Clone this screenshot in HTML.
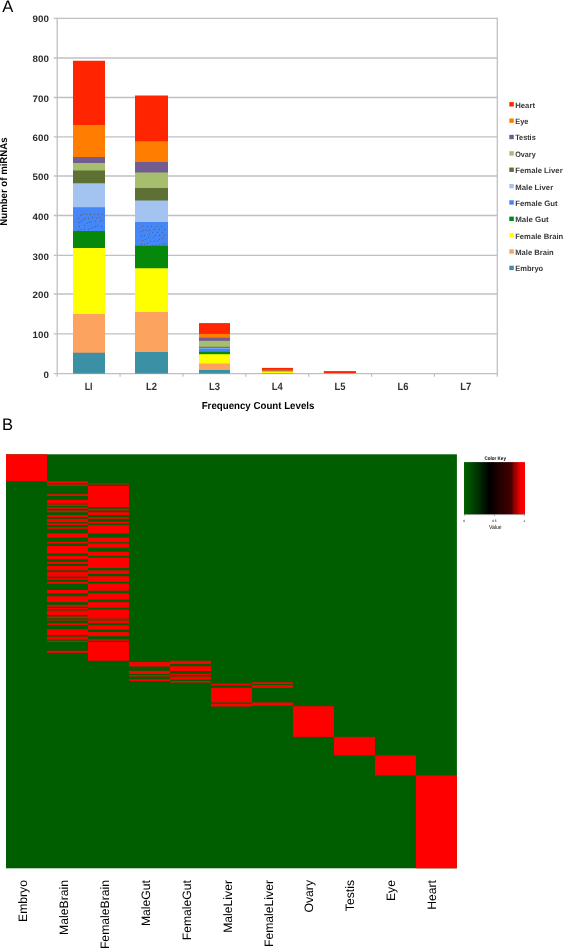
<!DOCTYPE html><html><head><meta charset="utf-8"><style>html,body{margin:0;padding:0;background:#fff;}body{width:563px;height:948px;overflow:hidden;}svg{display:block;will-change:transform;}text{font-family:"Liberation Sans",sans-serif;text-rendering:geometricPrecision;}</style></head><body><svg width="563" height="948" viewBox="0 0 563 948"><rect x="0" y="0" width="563" height="948" fill="#fff"/><text x="2.2" y="12.2" font-size="16.6" fill="#000">A</text><text x="2.0" y="429.8" font-size="16.6" fill="#000">B</text><line x1="53.8" y1="333.90" x2="497.3" y2="333.90" stroke="#c0c0c0" stroke-width="1.3"/><line x1="53.8" y1="294.00" x2="497.3" y2="294.00" stroke="#c0c0c0" stroke-width="1.3"/><line x1="53.8" y1="255.40" x2="497.3" y2="255.40" stroke="#c0c0c0" stroke-width="1.3"/><line x1="53.8" y1="215.50" x2="497.3" y2="215.50" stroke="#c0c0c0" stroke-width="1.3"/><line x1="53.8" y1="176.00" x2="497.3" y2="176.00" stroke="#c0c0c0" stroke-width="1.3"/><line x1="53.8" y1="136.80" x2="497.3" y2="136.80" stroke="#c0c0c0" stroke-width="1.3"/><line x1="53.8" y1="97.50" x2="497.3" y2="97.50" stroke="#c0c0c0" stroke-width="1.3"/><line x1="53.8" y1="58.00" x2="497.3" y2="58.00" stroke="#c0c0c0" stroke-width="1.3"/><line x1="53.8" y1="18.30" x2="497.3" y2="18.30" stroke="#c0c0c0" stroke-width="1.3"/><line x1="57.2" y1="17.70" x2="57.2" y2="374.20" stroke="#c0c0c0" stroke-width="1.3"/><line x1="497.3" y1="17.70" x2="497.3" y2="373.60" stroke="#c0c0c0" stroke-width="1.3"/><line x1="53.8" y1="373.60" x2="497.90000000000003" y2="373.60" stroke="#c0c0c0" stroke-width="1.3"/><line x1="57.20" y1="373.60" x2="57.20" y2="376.80" stroke="#c0c0c0" stroke-width="1.2"/><line x1="120.07" y1="373.60" x2="120.07" y2="376.80" stroke="#c0c0c0" stroke-width="1.2"/><line x1="182.94" y1="373.60" x2="182.94" y2="376.80" stroke="#c0c0c0" stroke-width="1.2"/><line x1="245.81" y1="373.60" x2="245.81" y2="376.80" stroke="#c0c0c0" stroke-width="1.2"/><line x1="308.69" y1="373.60" x2="308.69" y2="376.80" stroke="#c0c0c0" stroke-width="1.2"/><line x1="371.56" y1="373.60" x2="371.56" y2="376.80" stroke="#c0c0c0" stroke-width="1.2"/><line x1="434.43" y1="373.60" x2="434.43" y2="376.80" stroke="#c0c0c0" stroke-width="1.2"/><line x1="497.30" y1="373.60" x2="497.30" y2="376.80" stroke="#c0c0c0" stroke-width="1.2"/><text x="48.8" y="377.70" font-size="9.3" font-weight="bold" fill="#2b2b2b" text-anchor="end" textLength="5.4" lengthAdjust="spacingAndGlyphs">0</text><text x="48.8" y="338.00" font-size="9.3" font-weight="bold" fill="#2b2b2b" text-anchor="end" textLength="16.25" lengthAdjust="spacingAndGlyphs">100</text><text x="48.8" y="298.10" font-size="9.3" font-weight="bold" fill="#2b2b2b" text-anchor="end" textLength="16.25" lengthAdjust="spacingAndGlyphs">200</text><text x="48.8" y="259.50" font-size="9.3" font-weight="bold" fill="#2b2b2b" text-anchor="end" textLength="16.25" lengthAdjust="spacingAndGlyphs">300</text><text x="48.8" y="219.60" font-size="9.3" font-weight="bold" fill="#2b2b2b" text-anchor="end" textLength="16.25" lengthAdjust="spacingAndGlyphs">400</text><text x="48.8" y="180.10" font-size="9.3" font-weight="bold" fill="#2b2b2b" text-anchor="end" textLength="16.25" lengthAdjust="spacingAndGlyphs">500</text><text x="48.8" y="140.90" font-size="9.3" font-weight="bold" fill="#2b2b2b" text-anchor="end" textLength="16.25" lengthAdjust="spacingAndGlyphs">600</text><text x="48.8" y="101.60" font-size="9.3" font-weight="bold" fill="#2b2b2b" text-anchor="end" textLength="16.25" lengthAdjust="spacingAndGlyphs">700</text><text x="48.8" y="62.10" font-size="9.3" font-weight="bold" fill="#2b2b2b" text-anchor="end" textLength="16.25" lengthAdjust="spacingAndGlyphs">800</text><text x="48.8" y="22.40" font-size="9.3" font-weight="bold" fill="#2b2b2b" text-anchor="end" textLength="16.25" lengthAdjust="spacingAndGlyphs">900</text><rect x="73" y="60.75" width="32" height="312.45" fill="#ff2500"/><rect x="73" y="125.00" width="32" height="248.20" fill="#ff7d00"/><rect x="73" y="157.00" width="32" height="216.20" fill="#735c90"/><rect x="73" y="163.00" width="32" height="210.20" fill="#a5bf6e"/><rect x="73" y="170.50" width="32" height="202.70" fill="#5f7034"/><rect x="73" y="183.25" width="32" height="189.95" fill="#a3c4f0"/><rect x="73" y="207.25" width="32" height="165.95" fill="#4587f7"/><rect x="73" y="231.00" width="32" height="142.20" fill="#06880a"/><rect x="73" y="248.00" width="32" height="125.20" fill="#ffff00"/><rect x="73" y="314.00" width="32" height="59.20" fill="#fba35f"/><rect x="73" y="352.75" width="32" height="20.45" fill="#3b90a6"/><rect x="135" y="95.50" width="33" height="277.70" fill="#ff2500"/><rect x="135" y="141.25" width="33" height="231.95" fill="#ff7d00"/><rect x="135" y="162.00" width="33" height="211.20" fill="#735c90"/><rect x="135" y="172.50" width="33" height="200.70" fill="#a5bf6e"/><rect x="135" y="188.00" width="33" height="185.20" fill="#5f7034"/><rect x="135" y="200.50" width="33" height="172.70" fill="#a3c4f0"/><rect x="135" y="222.00" width="33" height="151.20" fill="#4587f7"/><rect x="135" y="245.75" width="33" height="127.45" fill="#06880a"/><rect x="135" y="268.25" width="33" height="104.95" fill="#ffff00"/><rect x="135" y="312.00" width="33" height="61.20" fill="#fba35f"/><rect x="135" y="352.00" width="33" height="21.20" fill="#3b90a6"/><rect x="199" y="323.10" width="31" height="50.10" fill="#ff2500"/><rect x="199" y="333.90" width="31" height="39.30" fill="#ff7d00"/><rect x="199" y="337.70" width="31" height="35.50" fill="#735c90"/><rect x="199" y="340.80" width="31" height="32.40" fill="#a5bf6e"/><rect x="199" y="346.80" width="31" height="26.40" fill="#5f7034"/><rect x="199" y="347.80" width="31" height="25.40" fill="#a3c4f0"/><rect x="199" y="348.50" width="31" height="24.70" fill="#4587f7"/><rect x="199" y="351.80" width="31" height="21.40" fill="#06880a"/><rect x="199" y="354.20" width="31" height="19.00" fill="#ffff00"/><rect x="199" y="363.50" width="31" height="9.70" fill="#fba35f"/><rect x="199" y="370.00" width="31" height="3.20" fill="#3b90a6"/><rect x="141.96" y="225.94" width="1" height="1" fill="#5d5a70"/><rect x="146.94" y="225.94" width="1" height="1" fill="#5d5a70"/><rect x="151.03" y="225.94" width="1" height="1" fill="#5d5a70"/><rect x="156.01" y="225.94" width="1" height="1" fill="#5d5a70"/><rect x="161.00" y="225.94" width="1" height="1" fill="#5d5a70"/><rect x="143.02" y="229.86" width="1" height="1" fill="#5d5a70"/><rect x="146.05" y="229.86" width="1" height="1" fill="#5d5a70"/><rect x="148.99" y="229.86" width="1" height="1" fill="#5d5a70"/><rect x="153.97" y="228.96" width="1" height="1" fill="#5d5a70"/><rect x="158.95" y="228.96" width="1" height="1" fill="#5d5a70"/><rect x="164.02" y="228.96" width="1" height="1" fill="#5d5a70"/><rect x="140.98" y="231.00" width="1" height="1" fill="#5d5a70"/><rect x="152.01" y="231.90" width="1" height="1" fill="#5d5a70"/><rect x="156.99" y="231.90" width="1" height="1" fill="#5d5a70"/><rect x="161.98" y="231.90" width="1" height="1" fill="#5d5a70"/><rect x="148.99" y="233.94" width="1" height="1" fill="#5d5a70"/><rect x="144.00" y="234.92" width="1" height="1" fill="#5d5a70"/><rect x="154.95" y="234.92" width="1" height="1" fill="#5d5a70"/><rect x="158.95" y="234.92" width="1" height="1" fill="#5d5a70"/><rect x="164.02" y="234.92" width="1" height="1" fill="#5d5a70"/><rect x="140.98" y="235.99" width="1" height="1" fill="#5d5a70"/><rect x="148.01" y="236.97" width="1" height="1" fill="#5d5a70"/><rect x="152.99" y="236.97" width="1" height="1" fill="#5d5a70"/><rect x="161.98" y="237.95" width="1" height="1" fill="#5d5a70"/><rect x="144.98" y="238.93" width="1" height="1" fill="#5d5a70"/><rect x="158.95" y="238.93" width="1" height="1" fill="#5d5a70"/><rect x="141.96" y="239.99" width="1" height="1" fill="#5d5a70"/><rect x="156.99" y="239.99" width="1" height="1" fill="#5d5a70"/><rect x="149.97" y="240.97" width="1" height="1" fill="#5d5a70"/><rect x="153.97" y="240.97" width="1" height="1" fill="#5d5a70"/><rect x="146.94" y="242.93" width="1" height="1" fill="#5d5a70"/><rect x="140.98" y="243.91" width="1" height="1" fill="#5d5a70"/><rect x="144.00" y="243.91" width="1" height="1" fill="#5d5a70"/><rect x="164.02" y="242.93" width="1" height="1" fill="#5d5a70"/><rect x="161.98" y="243.91" width="1" height="1" fill="#5d5a70"/><rect x="152.01" y="244.89" width="1" height="1" fill="#5d5a70"/><rect x="154.95" y="244.89" width="1" height="1" fill="#5d5a70"/><rect x="158.95" y="244.89" width="1" height="1" fill="#5d5a70"/><rect x="80.08" y="214.92" width="1" height="1" fill="#5d5a70"/><rect x="82.00" y="213.92" width="1" height="1" fill="#5d5a70"/><rect x="85.92" y="213.92" width="1" height="1" fill="#5d5a70"/><rect x="89.92" y="213.92" width="1" height="1" fill="#5d5a70"/><rect x="94.00" y="213.92" width="1" height="1" fill="#5d5a70"/><rect x="98.00" y="213.92" width="1" height="1" fill="#5d5a70"/><rect x="101.92" y="213.92" width="1" height="1" fill="#5d5a70"/><rect x="78.00" y="217.83" width="1" height="1" fill="#5d5a70"/><rect x="82.83" y="218.92" width="1" height="1" fill="#5d5a70"/><rect x="84.92" y="217.83" width="1" height="1" fill="#5d5a70"/><rect x="88.00" y="217.83" width="1" height="1" fill="#5d5a70"/><rect x="92.00" y="217.00" width="1" height="1" fill="#5d5a70"/><rect x="95.92" y="217.83" width="1" height="1" fill="#5d5a70"/><rect x="99.00" y="217.00" width="1" height="1" fill="#5d5a70"/><rect x="78.83" y="221.83" width="1" height="1" fill="#5d5a70"/><rect x="80.92" y="220.92" width="1" height="1" fill="#5d5a70"/><rect x="86.92" y="222.83" width="1" height="1" fill="#5d5a70"/><rect x="89.00" y="221.83" width="1" height="1" fill="#5d5a70"/><rect x="91.00" y="220.92" width="1" height="1" fill="#5d5a70"/><rect x="94.92" y="220.92" width="1" height="1" fill="#5d5a70"/><rect x="99.92" y="220.92" width="1" height="1" fill="#5d5a70"/><rect x="101.92" y="219.92" width="1" height="1" fill="#5d5a70"/><rect x="78.83" y="226.00" width="1" height="1" fill="#5d5a70"/><rect x="83.92" y="224.92" width="1" height="1" fill="#5d5a70"/><rect x="93.00" y="227.00" width="1" height="1" fill="#5d5a70"/><rect x="95.00" y="226.00" width="1" height="1" fill="#5d5a70"/><rect x="97.00" y="224.92" width="1" height="1" fill="#5d5a70"/><rect x="101.00" y="226.00" width="1" height="1" fill="#5d5a70"/><rect x="78.00" y="229.92" width="1" height="1" fill="#5d5a70"/><rect x="80.92" y="228.92" width="1" height="1" fill="#5d5a70"/><rect x="83.92" y="228.92" width="1" height="1" fill="#5d5a70"/><rect x="87.92" y="228.92" width="1" height="1" fill="#5d5a70"/><rect x="90.92" y="228.00" width="1" height="1" fill="#5d5a70"/><rect x="262" y="367.9" width="31" height="5.3" fill="#ff2500"/><rect x="262" y="369.8" width="31" height="3.4" fill="#ff7d00"/><rect x="262" y="370.6" width="31" height="2.6" fill="#735c90"/><rect x="262" y="371.4" width="31" height="1.8" fill="#ffff00"/><rect x="323.8" y="371.1" width="32.2" height="2.1" fill="#ff2500"/><text x="88.64" y="389.7" font-size="10.5" font-weight="bold" fill="#333" text-anchor="middle" textLength="7.9" lengthAdjust="spacingAndGlyphs">LI</text><text x="151.51" y="389.7" font-size="10.5" font-weight="bold" fill="#333" text-anchor="middle" textLength="11.0" lengthAdjust="spacingAndGlyphs">L2</text><text x="214.38" y="389.7" font-size="10.5" font-weight="bold" fill="#333" text-anchor="middle" textLength="11.0" lengthAdjust="spacingAndGlyphs">L3</text><text x="277.25" y="389.7" font-size="10.5" font-weight="bold" fill="#333" text-anchor="middle" textLength="11.0" lengthAdjust="spacingAndGlyphs">L4</text><text x="340.12" y="389.7" font-size="10.5" font-weight="bold" fill="#333" text-anchor="middle" textLength="11.0" lengthAdjust="spacingAndGlyphs">L5</text><text x="402.99" y="389.7" font-size="10.5" font-weight="bold" fill="#333" text-anchor="middle" textLength="11.0" lengthAdjust="spacingAndGlyphs">L6</text><text x="465.86" y="389.7" font-size="10.5" font-weight="bold" fill="#333" text-anchor="middle" textLength="11.0" lengthAdjust="spacingAndGlyphs">L7</text><text x="201.7" y="409.4" font-size="10.2" font-weight="bold" fill="#000" textLength="112.7" lengthAdjust="spacingAndGlyphs">Frequency Count Levels</text><text transform="translate(7.1,225.7) rotate(-90)" x="0" y="0" font-size="10.0" font-weight="bold" fill="#000" textLength="88.3" lengthAdjust="spacingAndGlyphs">Number of miRNAs</text><rect x="509.3" y="102.10" width="4.5" height="4.4" fill="#ff2500"/><text x="515.2" y="107.70" font-size="7.75" font-weight="bold" fill="#383838" textLength="19.8" lengthAdjust="spacingAndGlyphs">Heart</text><rect x="509.3" y="118.46" width="4.5" height="4.4" fill="#ff7d00"/><text x="515.2" y="124.06" font-size="7.75" font-weight="bold" fill="#383838" textLength="13.3" lengthAdjust="spacingAndGlyphs">Eye</text><rect x="509.3" y="134.82" width="4.5" height="4.4" fill="#735c90"/><text x="515.2" y="140.42" font-size="7.75" font-weight="bold" fill="#383838" textLength="20.5" lengthAdjust="spacingAndGlyphs">Testis</text><rect x="509.3" y="151.18" width="4.5" height="4.4" fill="#a5bf6e"/><text x="515.2" y="156.78" font-size="7.75" font-weight="bold" fill="#383838" textLength="20.5" lengthAdjust="spacingAndGlyphs">Ovary</text><rect x="509.3" y="167.54" width="4.5" height="4.4" fill="#5f7034"/><text x="515.2" y="173.14" font-size="7.75" font-weight="bold" fill="#383838" textLength="47.5" lengthAdjust="spacingAndGlyphs">Female Liver</text><rect x="509.3" y="183.90" width="4.5" height="4.4" fill="#a3c4f0"/><text x="515.2" y="189.50" font-size="7.75" font-weight="bold" fill="#383838" textLength="38.0" lengthAdjust="spacingAndGlyphs">Male Liver</text><rect x="509.3" y="200.26" width="4.5" height="4.4" fill="#4587f7"/><text x="515.2" y="205.86" font-size="7.75" font-weight="bold" fill="#383838" textLength="42.5" lengthAdjust="spacingAndGlyphs">Female Gut</text><rect x="509.3" y="216.62" width="4.5" height="4.4" fill="#06880a"/><text x="515.2" y="222.22" font-size="7.75" font-weight="bold" fill="#383838" textLength="33.5" lengthAdjust="spacingAndGlyphs">Male Gut</text><rect x="509.3" y="232.98" width="4.5" height="4.4" fill="#ffff00"/><text x="515.2" y="238.58" font-size="7.75" font-weight="bold" fill="#383838" textLength="48.0" lengthAdjust="spacingAndGlyphs">Female Brain</text><rect x="509.3" y="249.34" width="4.5" height="4.4" fill="#fba35f"/><text x="515.2" y="254.94" font-size="7.75" font-weight="bold" fill="#383838" textLength="38.5" lengthAdjust="spacingAndGlyphs">Male Brain</text><rect x="509.3" y="265.70" width="4.5" height="4.4" fill="#3b90a6"/><text x="515.2" y="271.30" font-size="7.75" font-weight="bold" fill="#383838" textLength="28.0" lengthAdjust="spacingAndGlyphs">Embryo</text><rect x="6.0" y="454.3" width="450.90" height="414.00" fill="#005e00"/><rect x="6.00" y="454.30" width="40.99" height="27.00" fill="#ff0000"/><rect x="46.99" y="481.20" width="40.99" height="1.80" fill="#ff0000"/><rect x="46.99" y="483.00" width="40.99" height="1.70" fill="#8a2c00"/><rect x="46.99" y="484.70" width="40.99" height="1.30" fill="#ff0000"/><rect x="46.99" y="494.20" width="40.99" height="1.80" fill="#ff0000"/><rect x="46.99" y="500.00" width="40.99" height="3.00" fill="#ff0000"/><rect x="46.99" y="503.00" width="40.99" height="1.70" fill="#8a2c00"/><rect x="46.99" y="504.70" width="40.99" height="1.30" fill="#ff0000"/><rect x="46.99" y="507.20" width="40.99" height="1.60" fill="#ff0000"/><rect x="46.99" y="510.50" width="40.99" height="1.70" fill="#ff0000"/><rect x="46.99" y="515.00" width="40.99" height="2.20" fill="#ff0000"/><rect x="46.99" y="518.80" width="40.99" height="3.40" fill="#ff0000"/><rect x="46.99" y="523.40" width="40.99" height="1.60" fill="#ff0000"/><rect x="46.99" y="527.20" width="40.99" height="1.60" fill="#ff0000"/><rect x="46.99" y="533.40" width="40.99" height="4.20" fill="#ff0000"/><rect x="46.99" y="541.75" width="40.99" height="1.65" fill="#ff0000"/><rect x="46.99" y="545.90" width="40.99" height="7.50" fill="#ff0000"/><rect x="46.99" y="555.90" width="40.99" height="3.30" fill="#ff0000"/><rect x="46.99" y="561.80" width="40.99" height="1.95" fill="#ff0000"/><rect x="46.99" y="566.00" width="40.99" height="4.40" fill="#ff0000"/><rect x="46.99" y="572.10" width="40.99" height="4.60" fill="#ff0000"/><rect x="46.99" y="577.90" width="40.99" height="1.70" fill="#ff0000"/><rect x="46.99" y="581.80" width="40.99" height="1.95" fill="#ff0000"/><rect x="46.99" y="590.00" width="40.99" height="3.30" fill="#ff0000"/><rect x="46.99" y="596.25" width="40.99" height="5.85" fill="#ff0000"/><rect x="46.99" y="604.80" width="40.99" height="1.90" fill="#ff0000"/><rect x="46.99" y="607.90" width="40.99" height="1.30" fill="#ff0000"/><rect x="46.99" y="609.20" width="40.99" height="1.60" fill="#8a2c00"/><rect x="46.99" y="610.80" width="40.99" height="4.20" fill="#ff0000"/><rect x="46.99" y="616.50" width="40.99" height="1.80" fill="#ff0000"/><rect x="46.99" y="619.20" width="40.99" height="1.60" fill="#8a2c00"/><rect x="46.99" y="623.30" width="40.99" height="1.70" fill="#ff0000"/><rect x="46.99" y="629.20" width="40.99" height="6.00" fill="#ff0000"/><rect x="46.99" y="636.60" width="40.99" height="2.90" fill="#ff0000"/><rect x="46.99" y="640.75" width="40.99" height="1.25" fill="#ff0000"/><rect x="46.99" y="650.75" width="40.99" height="2.05" fill="#ff0000"/><rect x="87.98" y="483.00" width="40.99" height="1.70" fill="#8a2c00"/><rect x="87.98" y="486.00" width="40.99" height="21.20" fill="#ff0000"/><rect x="87.98" y="508.80" width="40.99" height="1.70" fill="#ff0000"/><rect x="87.98" y="512.20" width="40.99" height="2.80" fill="#ff0000"/><rect x="87.98" y="517.20" width="40.99" height="1.60" fill="#ff0000"/><rect x="87.98" y="521.75" width="40.99" height="1.65" fill="#ff0000"/><rect x="87.98" y="525.00" width="40.99" height="8.40" fill="#ff0000"/><rect x="87.98" y="537.60" width="40.99" height="4.60" fill="#ff0000"/><rect x="87.98" y="543.40" width="40.99" height="4.20" fill="#ff0000"/><rect x="87.98" y="551.75" width="40.99" height="4.25" fill="#ff0000"/><rect x="87.98" y="557.50" width="40.99" height="10.40" fill="#ff0000"/><rect x="87.98" y="570.40" width="40.99" height="3.35" fill="#ff0000"/><rect x="87.98" y="576.25" width="40.99" height="5.55" fill="#ff0000"/><rect x="87.98" y="583.50" width="40.99" height="7.20" fill="#ff0000"/><rect x="87.98" y="593.30" width="40.99" height="6.30" fill="#ff0000"/><rect x="87.98" y="602.10" width="40.99" height="5.60" fill="#ff0000"/><rect x="87.98" y="609.60" width="40.99" height="9.15" fill="#ff0000"/><rect x="87.98" y="618.75" width="40.99" height="2.05" fill="#8a2c00"/><rect x="87.98" y="620.80" width="40.99" height="2.50" fill="#ff0000"/><rect x="87.98" y="625.00" width="40.99" height="4.60" fill="#ff0000"/><rect x="87.98" y="632.10" width="40.99" height="4.10" fill="#ff0000"/><rect x="87.98" y="639.30" width="40.99" height="1.45" fill="#ff0000"/><rect x="87.98" y="642.00" width="40.99" height="18.75" fill="#ff0000"/><rect x="128.97" y="662.10" width="40.99" height="4.40" fill="#ff0000"/><rect x="128.97" y="670.80" width="40.99" height="3.20" fill="#ff0000"/><rect x="128.97" y="675.00" width="40.99" height="1.50" fill="#ff0000"/><rect x="128.97" y="679.20" width="40.99" height="1.80" fill="#ff0000"/><rect x="169.96" y="660.80" width="40.99" height="3.20" fill="#ff0000"/><rect x="169.96" y="666.25" width="40.99" height="4.75" fill="#ff0000"/><rect x="169.96" y="673.75" width="40.99" height="1.25" fill="#ff0000"/><rect x="169.96" y="676.50" width="40.99" height="3.10" fill="#ff0000"/><rect x="169.96" y="681.00" width="40.99" height="1.50" fill="#ff0000"/><rect x="210.95" y="683.75" width="40.99" height="1.45" fill="#ff0000"/><rect x="210.95" y="687.90" width="40.99" height="14.60" fill="#ff0000"/><rect x="210.95" y="703.75" width="40.99" height="2.75" fill="#ff0000"/><rect x="251.95" y="682.30" width="40.99" height="1.70" fill="#ff0000"/><rect x="251.95" y="685.00" width="40.99" height="2.90" fill="#ff0000"/><rect x="251.95" y="702.50" width="40.99" height="3.20" fill="#ff0000"/><rect x="292.94" y="706.20" width="40.99" height="30.70" fill="#ff0000"/><rect x="333.93" y="736.90" width="40.99" height="18.50" fill="#ff0000"/><rect x="374.92" y="755.40" width="40.99" height="20.00" fill="#ff0000"/><rect x="415.91" y="775.40" width="40.99" height="92.90" fill="#ff0000"/><text transform="translate(27.00,880) rotate(-90)" x="0" y="0" font-size="12.2" fill="#000" text-anchor="end">Embryo</text><text transform="translate(67.92,880) rotate(-90)" x="0" y="0" font-size="12.2" fill="#000" text-anchor="end">MaleBrain</text><text transform="translate(108.84,880) rotate(-90)" x="0" y="0" font-size="12.2" fill="#000" text-anchor="end">FemaleBrain</text><text transform="translate(149.76,880) rotate(-90)" x="0" y="0" font-size="12.2" fill="#000" text-anchor="end">MaleGut</text><text transform="translate(190.68,880) rotate(-90)" x="0" y="0" font-size="12.2" fill="#000" text-anchor="end">FemaleGut</text><text transform="translate(231.60,880) rotate(-90)" x="0" y="0" font-size="12.2" fill="#000" text-anchor="end">MaleLiver</text><text transform="translate(272.52,880) rotate(-90)" x="0" y="0" font-size="12.2" fill="#000" text-anchor="end">FemaleLiver</text><text transform="translate(313.44,880) rotate(-90)" x="0" y="0" font-size="12.2" fill="#000" text-anchor="end">Ovary</text><text transform="translate(354.36,880) rotate(-90)" x="0" y="0" font-size="12.2" fill="#000" text-anchor="end">Testis</text><text transform="translate(395.28,880) rotate(-90)" x="0" y="0" font-size="12.2" fill="#000" text-anchor="end">Eye</text><text transform="translate(436.20,880) rotate(-90)" x="0" y="0" font-size="12.2" fill="#000" text-anchor="end">Heart</text><defs><linearGradient id="ck" x1="0" y1="0" x2="1" y2="0"><stop offset="0.000" stop-color="#006200"/><stop offset="0.098" stop-color="#005000"/><stop offset="0.230" stop-color="#003000"/><stop offset="0.344" stop-color="#001200"/><stop offset="0.402" stop-color="#000000"/><stop offset="0.451" stop-color="#040000"/><stop offset="0.590" stop-color="#260000"/><stop offset="0.721" stop-color="#3a0000"/><stop offset="0.787" stop-color="#4a0000"/><stop offset="0.811" stop-color="#880000"/><stop offset="0.869" stop-color="#b40000"/><stop offset="0.926" stop-color="#f20000"/><stop offset="1.000" stop-color="#ff0000"/></linearGradient></defs><rect x="464.0" y="462.1" width="61.00" height="52.20" fill="url(#ck)"/><line x1="464.0" y1="514.5999999999999" x2="525.0" y2="514.5999999999999" stroke="#666" stroke-width="0.5"/><line x1="464.40" y1="514.3" x2="464.40" y2="515.9" stroke="#666" stroke-width="0.5"/><line x1="494.50" y1="514.3" x2="494.50" y2="515.9" stroke="#666" stroke-width="0.5"/><line x1="524.60" y1="514.3" x2="524.60" y2="515.9" stroke="#666" stroke-width="0.5"/><text x="464.1" y="521.9" font-size="3.2" fill="#000" text-anchor="middle">0</text><text x="494.4" y="521.9" font-size="3.2" fill="#000" text-anchor="middle">0.5</text><text x="524.4" y="521.9" font-size="3.2" fill="#000" text-anchor="middle">1</text><text x="495.3" y="528.7" font-size="5.9" fill="#111" text-anchor="middle" textLength="12.8" lengthAdjust="spacingAndGlyphs">Value</text><text x="495.25" y="460.0" font-size="5.2" font-weight="bold" fill="#000" text-anchor="middle" textLength="21.3" lengthAdjust="spacingAndGlyphs">Color Key</text></svg></body></html>
